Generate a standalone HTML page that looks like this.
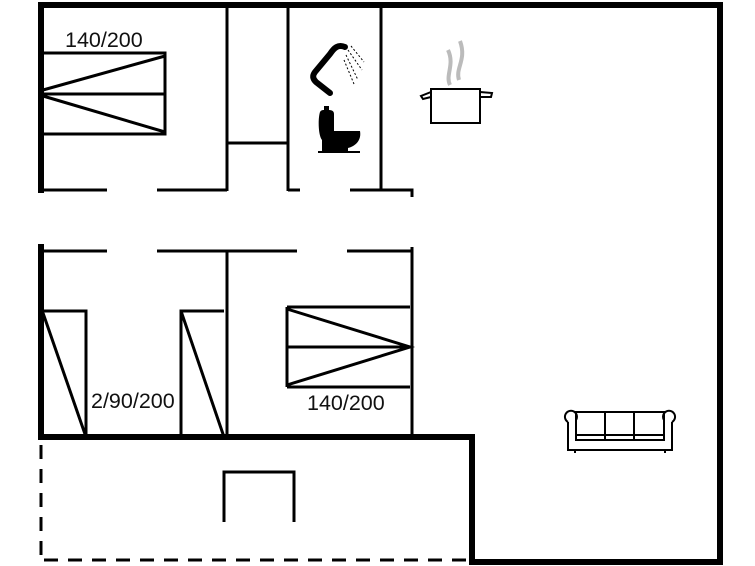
<!DOCTYPE html>
<html><head><style>body{margin:0;background:#fff}svg{display:block}text{font-family:"Liberation Sans",sans-serif;font-size:21.5px;fill:#111}</style></head>
<body>
<svg width="755" height="566" viewBox="0 0 755 566" xmlns="http://www.w3.org/2000/svg">
<g stroke="#000" fill="none" stroke-linecap="butt">
<path d="M38 5 H720 V562 H472 V437 H38" stroke-width="6"/>
<path d="M41 3 V193 M41 244 V440" stroke-width="6"/>
<g stroke-width="3">
<path d="M227 5 V191 M288 5 V191 M381 5 V191 M227 143 H288"/>
<path d="M43 190 H107 M157 190 H227 M288 190 H300 M350 190 H412 V197"/>
<path d="M43 251 H107 M157 251 H297 M347 251 H412 V437 M412 247 V251"/>
<path d="M227 251 V437"/>
<path d="M43 311 H86 V437 M43 313 L86 437"/>
<path d="M181 437 V311 H224 M181 311 L224 437"/>
<path d="M287 307 H410 M287 347 H410 M287 387 H410 M287 307 V387 M287 309 L410 347 L287 385"/>
<path d="M43 53 H165 V134 H43 M43 94 H165 M43 90 L165 56 M43 96 L165 132"/>
<path d="M224 522 V472 H294 V522"/>
</g>
<path d="M41 445 V562" stroke-width="3" stroke-dasharray="14,10"/>
<path d="M44 560 H470" stroke-width="3" stroke-dasharray="14,10"/>
<g stroke-width="2">
<path d="M431 89 H480 V123 H431 Z"/>
<path d="M431 92 L421 96 L423 99 L431 97 M480 92 L492 93 L491 97 L480 97"/>
</g>
<path d="M450 85 C445 75 455 65 448 50 M459 80 C455 68 467 60 460 41" stroke="#bbb" stroke-width="4"/>
<g stroke-width="2">
<path d="M576 412 H664 V440 H576 Z M605 412 V440 M634 412 V440 M576 435 H664"/>
<path d="M568 422 V450 H672 V422 M568 422 A6 6 0 1 1 576 420 M672 422 A6 6 0 1 0 664 420 M575 450 V453 M665 450 V453"/>
</g>
</g>
<path d="M345 47 C338 44 334 48 330 54 L315 72 C312 76 313 79 316 82 L330 93" stroke="#000" stroke-width="6" fill="none" stroke-linecap="round" stroke-linejoin="round"/>
<path d="M348 50 L362 70 M346 55 L358 80 M344 60 L354 84 M351 46 L364 62" stroke="#000" stroke-width="1" stroke-dasharray="2,2"/>
<path d="M324 106 H329 V110 C333 110 334 112 334 114 V131 H360 C362 142 353 147 348 148 V151 H322 V140 C318 135 318 118 320 112 C321 110 323 110 324 110 Z" fill="#000"/>
<rect x="318" y="151" width="42" height="2" fill="#000"/>
<text x="65" y="47">140/200</text>
<text x="91" y="408">2/90/200</text>
<text x="307" y="410">140/200</text>
</svg>
</body></html>
